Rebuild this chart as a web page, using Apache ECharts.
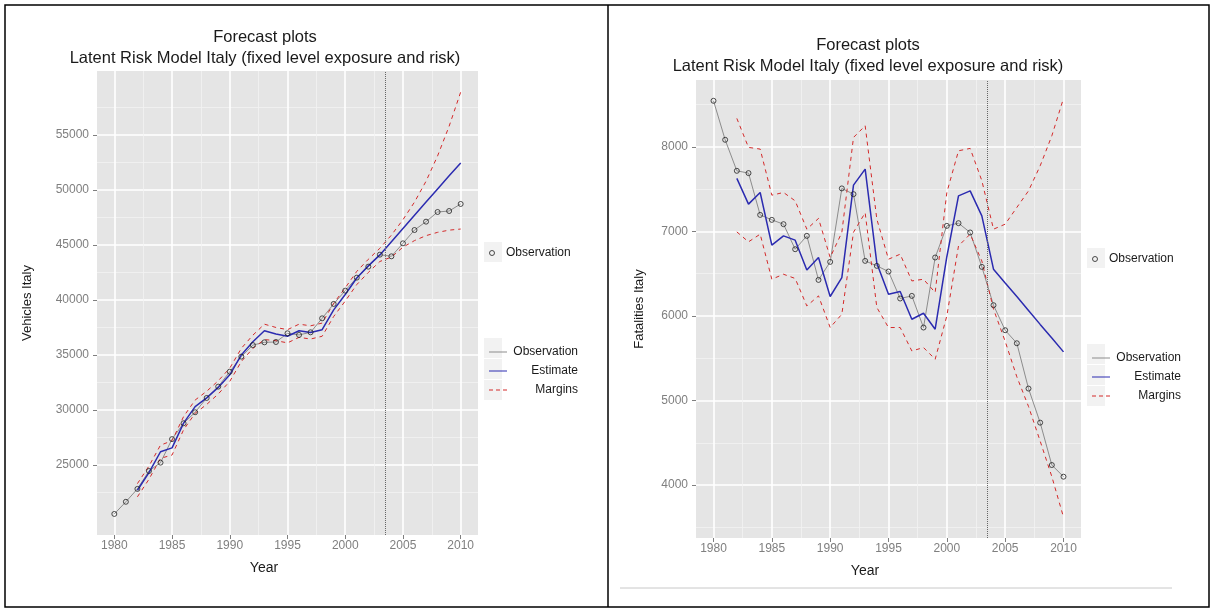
<!DOCTYPE html>
<html lang="en">
<head>
    <meta charset="UTF-8">
    <title>Forecast plots</title>
    <script type="text/javascript" src="https://cdn.jsdelivr.net/npm/echarts@6/dist/echarts.min.js"></script>
    <style>
        html, body { margin: 0; padding: 0; background: #fff; }
        #main { width: 1214px; height: 612px; }
    </style>
</head>
<body>
    <div id="main"></div>
    <script type="text/javascript">
        // years of the observations
        var years = [1980, 1981, 1982, 1983, 1984, 1985, 1986, 1987, 1988, 1989,
            1990, 1991, 1992, 1993, 1994, 1995, 1996, 1997, 1998, 1999,
            2000, 2001, 2002, 2003, 2004, 2005, 2006, 2007, 2008, 2009, 2010];
        // estimate and margins start in 1982
        var estYears = years.slice(2);

        // vehicles (left plot)
        var vehObs = [20545, 21650, 22820, 24450, 25210, 27350, 28790, 29790, 31090, 32120,
            33480, 34850, 35900, 36150, 36180, 36970, 36820, 37060, 38330, 39640,
            40850, 42030, 43030, 44120, 43970, 45150, 46360, 47120, 48000, 48090, 48730];
        var vehEst = [22700, 24300, 26200, 26550, 28800, 30300, 31100, 32050,
            33200, 35000, 36200, 37200, 36900, 36700, 37200, 37050, 37300, 39100,
            40500, 42000, 43100, 44100, 45300, 46500, 47700, 48900, 50100, 51300, 52450];
        var vehUpper = [23300, 24900, 26800, 27200, 29400, 30900, 31700, 32650,
            33800, 35600, 36800, 37800, 37500, 37300, 37800, 37650, 37900, 39700,
            41100, 42600, 43700, 44700, 45900, 47300, 48900, 50800, 53100, 55800, 58900];
        var vehLower = [22100, 23700, 25600, 25900, 28200, 29700, 30500, 31450,
            32600, 34400, 35600, 36400, 36300, 36100, 36600, 36450, 36700, 38500,
            39900, 41400, 42500, 43500, 43900, 44800, 45400, 45850, 46150, 46350, 46450];

        // fatalities (right plot)
        var fatObs = [8544, 8083, 7716, 7689, 7195, 7136, 7085, 6789, 6947, 6426,
            6639, 7508, 7440, 6651, 6592, 6525, 6206, 6237, 5863, 6691,
            7065, 7097, 6987, 6580, 6127, 5831, 5677, 5141, 4738, 4237, 4099];
        var fatEst = [7626, 7322, 7460, 6837, 6947, 6896, 6544, 6691,
            6230, 6454, 7547, 7736, 6624, 6257, 6289, 5961, 6032, 5843,
            6700, 7420, 7479, 7183, 6553, 6390, 6230, 6065, 5900, 5740, 5575];
        var fatUpper = [8336, 7993, 7973, 7428, 7460, 7361, 7026, 7153,
            6691, 6987, 8111, 8249, 7144, 6671, 6730, 6414, 6434, 6277,
            7460, 7953, 7981, 7600, 7026, 7085, 7283, 7479, 7775, 8130, 8573];
        var fatLower = [6994, 6876, 6967, 6434, 6493, 6443, 6118, 6237,
            5863, 6020, 6990, 7220, 6100, 5863, 5863, 5586, 5626, 5488,
            6000, 6828, 6967, 6650, 6080, 5700, 5280, 4930, 4520, 4100, 3620];

        // axis breaks
        var yearTicks = [1980, 1985, 1990, 1995, 2000, 2005, 2010];
        var yearMinor = [1982.5, 1987.5, 1992.5, 1997.5, 2002.5, 2007.5];
        var vehTicks = [25000, 30000, 35000, 40000, 45000, 50000, 55000];
        var vehMinor = [22500, 27500, 32500, 37500, 42500, 47500, 52500, 57500];
        var fatTicks = [4000, 5000, 6000, 7000, 8000];
        var fatMinor = [3500, 4500, 5500, 6500, 7500, 8500];
        var forecastStart = 2003.5;

        function pairs(xs, ys) {
            return xs.map(function (x, i) { return [x, ys[i]]; });
        }

        var myChart = echarts.init(document.getElementById('main'));

        var FONT = 'Liberation Sans, Arial, sans-serif';
        var GRAY = '#7f7f7f';
        var OBS_COLOR = '#8c8c8c';
        var EST_COLOR = '#2b2bb0';
        var MARGIN_COLOR = '#d42a2a';

        function plain(v) { return String(v); }

        function majorX(grid) {
            return {
                type: 'value', gridIndex: grid, min: 1978.5, max: 2011.5,
                name: 'Year', nameLocation: 'middle', nameGap: 26,
                nameTextStyle: { fontFamily: FONT, fontSize: 14, color: '#1a1a1a', padding: [0, 47, 0, 0] },
                axisLine: { show: false },
                axisTick: { show: true, length: 4, customValues: yearTicks, lineStyle: { color: GRAY } },
                axisLabel: { customValues: yearTicks, formatter: plain, color: GRAY, fontFamily: FONT, fontSize: 12, margin: 5 },
                splitLine: { show: true, lineStyle: { color: '#ffffff', width: 1.6 } }
            };
        }
        function minorX(grid) {
            return {
                type: 'value', gridIndex: grid, min: 1978.5, max: 2011.5,
                position: 'bottom',
                axisLine: { show: false },
                axisTick: { show: false, customValues: yearMinor },
                axisLabel: { show: false },
                splitLine: { show: true, lineStyle: { color: '#f2f2f2', width: 0.8 } }
            };
        }
        function majorY(grid, min, max, ticks, name, gap) {
            return {
                type: 'value', gridIndex: grid, min: min, max: max,
                name: name, nameLocation: 'middle', nameGap: gap, nameRotate: 90,
                nameTextStyle: { fontFamily: FONT, fontSize: 13, color: '#1a1a1a' },
                axisLine: { show: false },
                axisTick: { show: true, length: 4, customValues: ticks, lineStyle: { color: GRAY } },
                axisLabel: { customValues: ticks, formatter: plain, color: GRAY, fontFamily: FONT, fontSize: 12, margin: 8 },
                splitLine: { show: true, lineStyle: { color: '#ffffff', width: 1.6 } }
            };
        }
        function minorY(grid, min, max, ticks) {
            return {
                type: 'value', gridIndex: grid, min: min, max: max,
                axisLine: { show: false },
                axisTick: { show: false, customValues: ticks },
                axisLabel: { show: false },
                splitLine: { show: true, lineStyle: { color: '#f2f2f2', width: 0.8 } }
            };
        }

        function panelSeries(xi, yi, obs, est, upper, lower) {
            return [
                {
                    name: 'Observation', type: 'line', xAxisIndex: xi, yAxisIndex: yi,
                    data: pairs(years, obs), symbol: 'none', z: 2, color: OBS_COLOR,
                    lineStyle: { color: OBS_COLOR, width: 1 },
                    markLine: {
                        silent: true, symbol: 'none', label: { show: false },
                        lineStyle: { color: '#666', type: 'dotted', width: 1 },
                        data: [{ xAxis: forecastStart }]
                    }
                },
                {
                    name: 'Estimate', type: 'line', xAxisIndex: xi, yAxisIndex: yi,
                    data: pairs(estYears, est), symbol: 'none', z: 3, color: EST_COLOR,
                    lineStyle: { color: EST_COLOR, width: 1.5 }
                },
                {
                    name: 'Margins', type: 'line', xAxisIndex: xi, yAxisIndex: yi,
                    data: pairs(estYears, upper), symbol: 'none', z: 3, color: MARGIN_COLOR,
                    lineStyle: { color: MARGIN_COLOR, width: 1, type: [4, 4] }
                },
                {
                    name: 'Margins', type: 'line', xAxisIndex: xi, yAxisIndex: yi,
                    data: pairs(estYears, lower), symbol: 'none', z: 3, color: MARGIN_COLOR,
                    lineStyle: { color: MARGIN_COLOR, width: 1, type: [4, 4] }
                },
                {
                    name: 'pts', type: 'scatter', xAxisIndex: xi, yAxisIndex: yi,
                    data: pairs(years, obs), symbol: 'circle', symbolSize: 5, z: 5,
                    itemStyle: { color: 'rgba(0,0,0,0)', borderColor: '#222', borderWidth: 1 }
                }
            ];
        }

        var SOLID_KEY = 'path://M0,0H18V1H0Z';
        var DASH_KEY = 'path://M0,0H4V1H0Z M7,0H11V1H7Z M14,0H18V1H14Z';

        function legends(x, yPts, yLines) {
            return [
                {
                    orient: 'vertical', left: x, top: yPts, itemWidth: 18, itemHeight: 5,
                    data: [{ name: 'pts', icon: 'circle', itemStyle: { color: 'rgba(0,0,0,0)', borderColor: '#222', borderWidth: 1 } }],
                    formatter: function () { return 'Observation'; },
                    textStyle: { fontFamily: FONT, fontSize: 12, color: '#1a1a1a' },
                    selectedMode: false
                },
                {
                    orient: 'vertical', left: x, top: yLines, itemWidth: 18, itemHeight: 1.2, itemGap: 7,
                    data: [
                        { name: 'Observation', icon: SOLID_KEY, itemStyle: { color: OBS_COLOR } },
                        { name: 'Estimate', icon: SOLID_KEY, itemStyle: { color: EST_COLOR } },
                        { name: 'Margins', icon: DASH_KEY, itemStyle: { color: MARGIN_COLOR } }
                    ],
                    formatter: function (n) { return '{r|' + n + '}'; },
                    textStyle: {
                        fontFamily: FONT, fontSize: 12, color: '#1a1a1a',
                        rich: { r: { width: 66, align: 'right', lineHeight: 14, fontFamily: FONT, fontSize: 12, color: '#1a1a1a' } }
                    },
                    selectedMode: false
                }
            ];
        }

        function keyBoxes(x, yPts, yLines) {
            var out = [{ type: 'rect', shape: { x: x, y: yPts, width: 18, height: 20 }, style: { fill: '#f2f2f2' }, z: -1 }];
            for (var i = 0; i < 3; i++) {
                out.push({ type: 'rect', shape: { x: x, y: yLines + i * 21, width: 18, height: 20 }, style: { fill: '#f2f2f2' }, z: -1 });
            }
            return out;
        }

        function titleText(x, y, text) {
            return {
                type: 'text', x: x, y: y,
                style: { text: text, textAlign: 'center', textVerticalAlign: 'middle', font: '16.5px ' + FONT, fill: '#1a1a1a' }
            };
        }

        var option = {
            animation: false,
            backgroundColor: '#ffffff',
            grid: [
                { left: 97, top: 71, width: 381, height: 464, show: true, backgroundColor: '#e5e5e5', borderWidth: 0 },
                { left: 696, top: 80, width: 385, height: 458, show: true, backgroundColor: '#e5e5e5', borderWidth: 0 }
            ],
            xAxis: [majorX(0), minorX(0), majorX(1), minorX(1)],
            yAxis: [
                majorY(0, 18630, 60820, vehTicks, 'Vehicles Italy', 63),
                minorY(0, 18630, 60820, vehMinor),
                majorY(1, 3374, 8790, fatTicks, 'Fatalities Italy', 50),
                minorY(1, 3374, 8790, fatMinor)
            ],
            legend: legends(484, 242, 341).concat(legends(1087, 248, 347)),
            series: panelSeries(0, 0, vehObs, vehEst, vehUpper, vehLower)
                .concat(panelSeries(2, 2, fatObs, fatEst, fatUpper, fatLower)),
            graphic: [
                { type: 'rect', shape: { x: 5, y: 5, width: 1204, height: 602 }, style: { fill: 'none', stroke: '#000', lineWidth: 1.5 } },
                { type: 'line', shape: { x1: 608, y1: 5, x2: 608, y2: 607 }, style: { stroke: '#000', lineWidth: 1.5 } },
                { type: 'line', shape: { x1: 620, y1: 588, x2: 1172, y2: 588 }, style: { stroke: '#c8c8c8', lineWidth: 1 } },
                titleText(265, 37, 'Forecast plots'),
                titleText(265, 58, 'Latent Risk Model Italy (fixed level exposure and risk)'),
                titleText(868, 45, 'Forecast plots'),
                titleText(868, 66, 'Latent Risk Model Italy (fixed level exposure and risk)')
            ].concat(keyBoxes(484, 242, 338)).concat(keyBoxes(1087, 248, 344))
        };

        myChart.setOption(option);
    </script>
</body>
</html>
